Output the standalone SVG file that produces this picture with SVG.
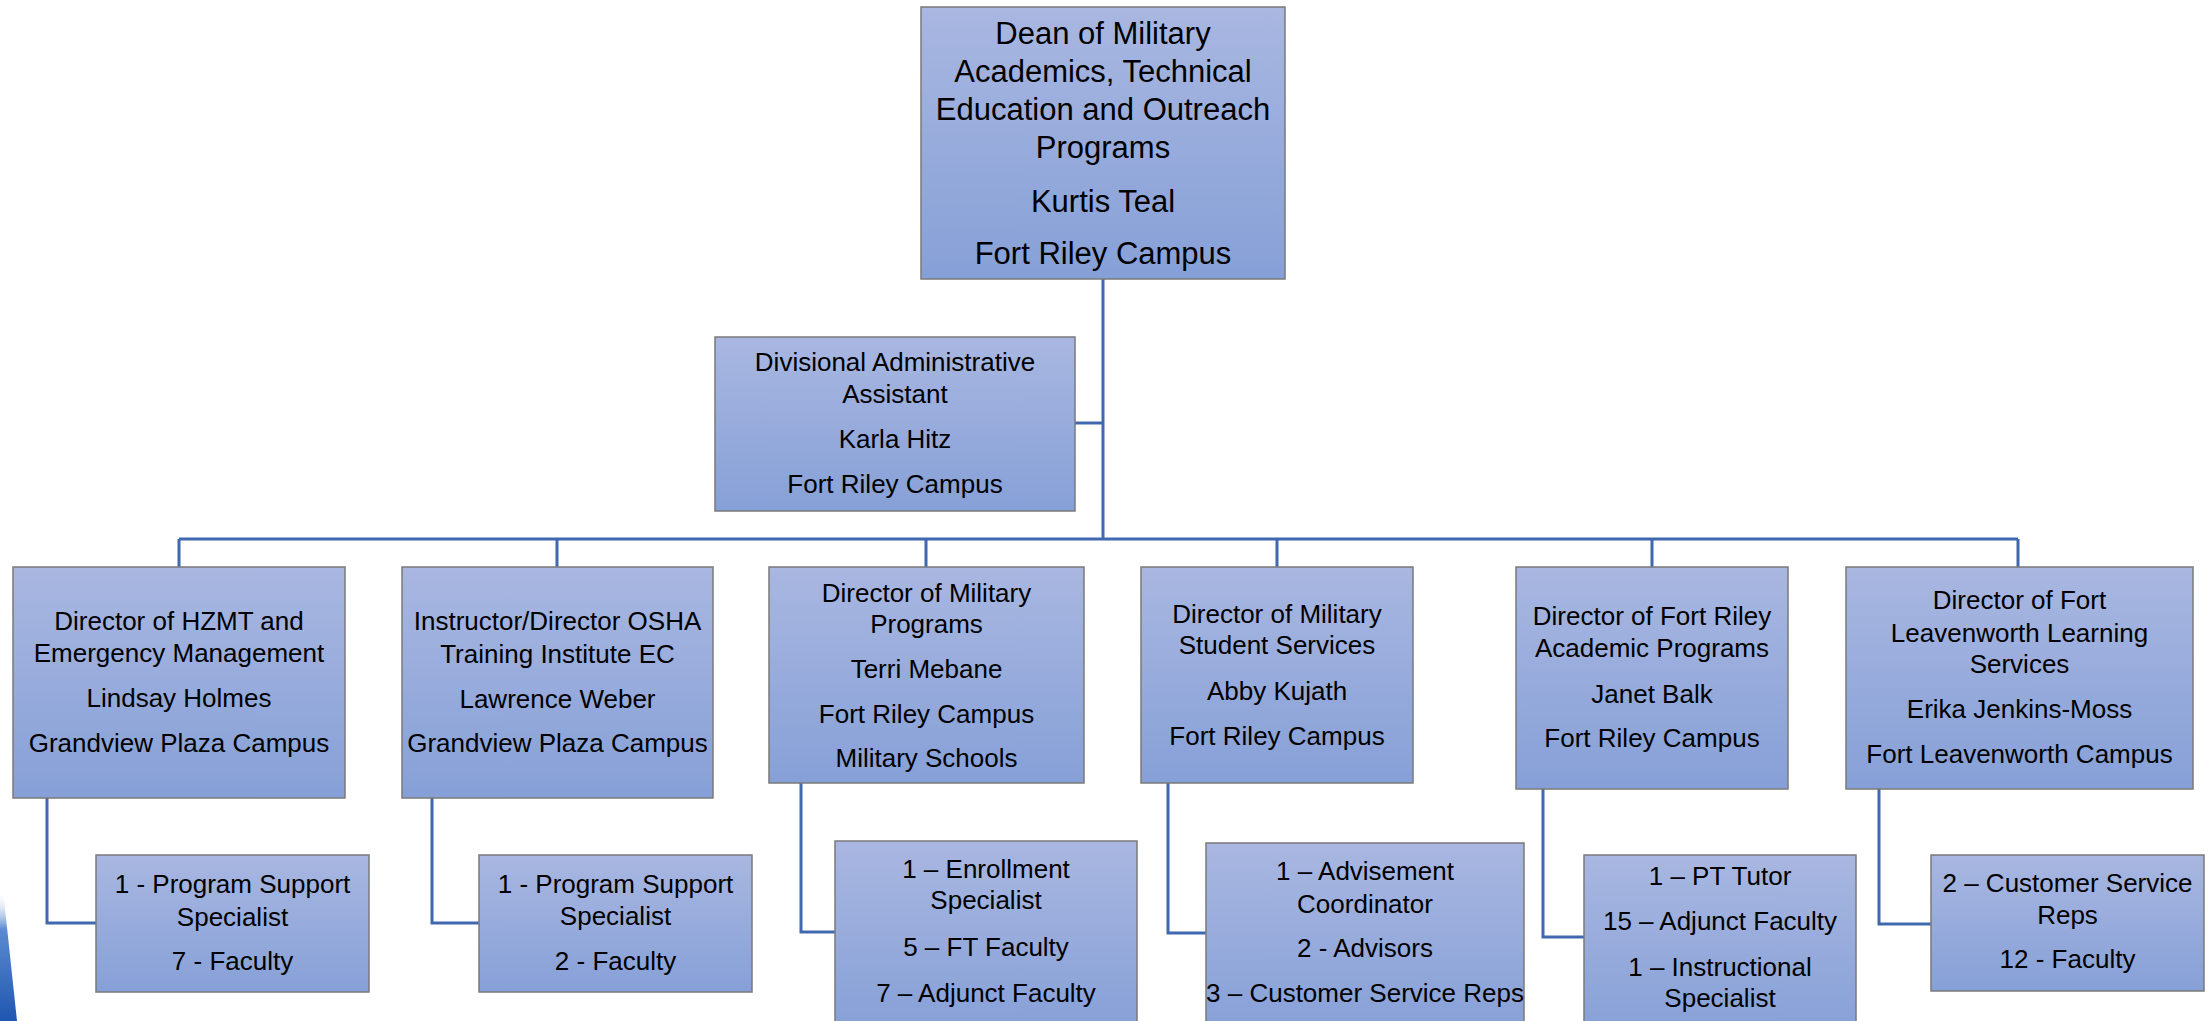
<svg xmlns="http://www.w3.org/2000/svg" width="2211" height="1021" viewBox="0 0 2211 1021">
<defs>
<linearGradient id="boxfill" x1="0" y1="0" x2="0" y2="1">
<stop offset="0" stop-color="#A9B7E1"/>
<stop offset="1" stop-color="#86A0D7"/>
</linearGradient>
<linearGradient id="stripe" x1="0" y1="0" x2="0" y2="1">
<stop offset="0" stop-color="#FFFFFF" stop-opacity="0"/>
<stop offset="0.3" stop-color="#5B8BD0"/>
<stop offset="1" stop-color="#1F56B0"/>
</linearGradient>
<style>
.box{fill:url(#boxfill);stroke:#7A7A7A;stroke-width:1.5}
.t{font-family:"Liberation Sans",Arial,sans-serif;font-size:26px;fill:#000;text-anchor:middle}
.tl{font-family:"Liberation Sans",Arial,sans-serif;font-size:31px;fill:#000;text-anchor:middle}
.c{fill:none;stroke:#4068B0;stroke-width:3}
</style>
</defs>
<rect width="2211" height="1021" fill="#FFFFFF"/>
<polygon points="0,890 3,890 17,1021 0,1021" fill="url(#stripe)"/>

<g id="connectors">
<path class="c" d="M1103,279V539"/>
<path class="c" d="M1075,423H1103"/>
<path class="c" d="M179,539H2018"/>
<path class="c" d="M179,539V567M557,539V567M926,539V567M1277,539V567M1652,539V567M2018,539V567"/>
<path class="c" d="M47,798V923H96"/>
<path class="c" d="M432,798V923H479"/>
<path class="c" d="M801,783V932H835"/>
<path class="c" d="M1168,783V933H1206"/>
<path class="c" d="M1543,789V937H1584"/>
<path class="c" d="M1879,789V924H1931"/>
</g>

<g id="dean">
<rect class="box" x="921" y="7" width="364" height="272"/>
<text class="tl" x="1103" y="44">Dean of Military</text>
<text class="tl" x="1103" y="82">Academics, Technical</text>
<text class="tl" x="1103" y="120">Education and Outreach</text>
<text class="tl" x="1103" y="158">Programs</text>
<text class="tl" x="1103" y="212">Kurtis Teal</text>
<text class="tl" x="1103" y="264">Fort Riley Campus</text>
</g>

<g id="admin">
<rect class="box" x="715" y="337" width="360" height="174"/>
<text class="t" x="895" y="371">Divisional Administrative</text>
<text class="t" x="895" y="403">Assistant</text>
<text class="t" x="895" y="448">Karla Hitz</text>
<text class="t" x="895" y="493">Fort Riley Campus</text>
</g>

<g id="hzmt">
<rect class="box" x="13" y="567" width="332" height="231"/>
<text class="t" x="179" y="630">Director of HZMT and</text>
<text class="t" x="179" y="662">Emergency Management</text>
<text class="t" x="179" y="707">Lindsay Holmes</text>
<text class="t" x="179" y="752">Grandview Plaza Campus</text>
</g>

<g id="osha">
<rect class="box" x="402" y="567" width="311" height="231"/>
<text class="t" x="557.5" y="630">Instructor/Director OSHA</text>
<text class="t" x="557.5" y="663">Training Institute EC</text>
<text class="t" x="557.5" y="708">Lawrence Weber</text>
<text class="t" x="557.5" y="752">Grandview Plaza Campus</text>
</g>

<g id="milprog">
<rect class="box" x="769" y="567" width="315" height="216"/>
<text class="t" x="926.5" y="602">Director of Military</text>
<text class="t" x="926.5" y="633">Programs</text>
<text class="t" x="926.5" y="678">Terri Mebane</text>
<text class="t" x="926.5" y="723">Fort Riley Campus</text>
<text class="t" x="926.5" y="767">Military Schools</text>
</g>

<g id="studserv">
<rect class="box" x="1141" y="567" width="272" height="216"/>
<text class="t" x="1277" y="623">Director of Military</text>
<text class="t" x="1277" y="654">Student Services</text>
<text class="t" x="1277" y="700">Abby Kujath</text>
<text class="t" x="1277" y="745">Fort Riley Campus</text>
</g>

<g id="fortriley">
<rect class="box" x="1516" y="567" width="272" height="222"/>
<text class="t" x="1652" y="625">Director of Fort Riley</text>
<text class="t" x="1652" y="657">Academic Programs</text>
<text class="t" x="1652" y="703">Janet Balk</text>
<text class="t" x="1652" y="747">Fort Riley Campus</text>
</g>

<g id="leavenworth">
<rect class="box" x="1846" y="567" width="347" height="222"/>
<text class="t" x="2019.5" y="609">Director of Fort</text>
<text class="t" x="2019.5" y="642">Leavenworth Learning</text>
<text class="t" x="2019.5" y="673">Services</text>
<text class="t" x="2019.5" y="718">Erika Jenkins-Moss</text>
<text class="t" x="2019.5" y="763">Fort Leavenworth Campus</text>
</g>

<g id="hzmt-staff">
<rect class="box" x="96" y="855" width="273" height="137"/>
<text class="t" x="232.5" y="893">1 - Program Support</text>
<text class="t" x="232.5" y="926">Specialist</text>
<text class="t" x="232.5" y="970">7 - Faculty</text>
</g>

<g id="osha-staff">
<rect class="box" x="479" y="855" width="273" height="137"/>
<text class="t" x="615.5" y="893">1 - Program Support</text>
<text class="t" x="615.5" y="925">Specialist</text>
<text class="t" x="615.5" y="970">2 - Faculty</text>
</g>

<g id="milprog-staff">
<rect class="box" x="835" y="841" width="302" height="190"/>
<text class="t" x="986" y="878">1 – Enrollment</text>
<text class="t" x="986" y="909">Specialist</text>
<text class="t" x="986" y="956">5 – FT Faculty</text>
<text class="t" x="986" y="1002">7 – Adjunct Faculty</text>
</g>

<g id="studserv-staff">
<rect class="box" x="1206" y="843" width="318" height="190"/>
<text class="t" x="1365" y="880">1 – Advisement</text>
<text class="t" x="1365" y="913">Coordinator</text>
<text class="t" x="1365" y="957">2 - Advisors</text>
<text class="t" x="1365" y="1002">3 – Customer Service Reps</text>
</g>

<g id="fortriley-staff">
<rect class="box" x="1584" y="855" width="272" height="180"/>
<text class="t" x="1720" y="885">1 – PT Tutor</text>
<text class="t" x="1720" y="930">15 – Adjunct Faculty</text>
<text class="t" x="1720" y="976">1 – Instructional</text>
<text class="t" x="1720" y="1007">Specialist</text>
</g>

<g id="leavenworth-staff">
<rect class="box" x="1931" y="855" width="273" height="136"/>
<text class="t" x="2067.5" y="892">2 – Customer Service</text>
<text class="t" x="2067.5" y="924">Reps</text>
<text class="t" x="2067.5" y="968">12 - Faculty</text>
</g>
</svg>
